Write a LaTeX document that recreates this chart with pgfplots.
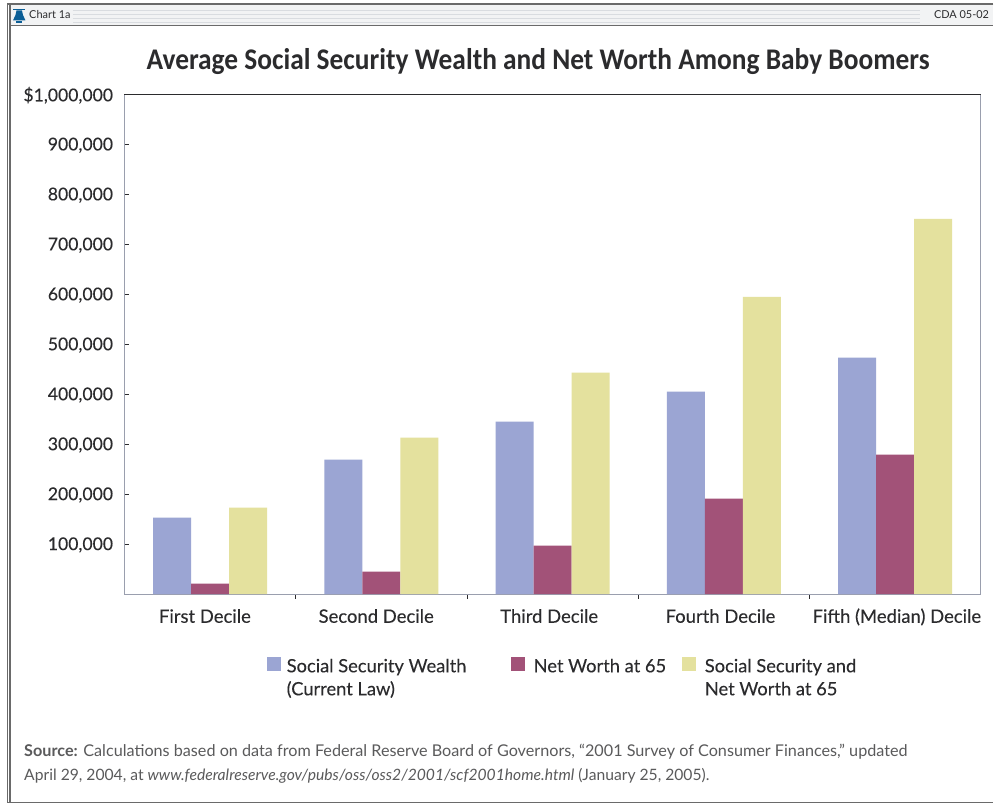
\documentclass[border=0pt]{standalone}
\usepackage{pgfplots}
\pgfplotsset{compat=1.18}
\usepackage{fontspec}
\setmainfont{Lato}
\newfontfamily\titlefont{Carlito}
\newfontfamily\labelfont{Lato}[FakeBold=0.12]
\definecolor{blueseries}{HTML}{9BA5D3}
\definecolor{redseries}{HTML}{A25278}
\definecolor{yellowseries}{HTML}{E4E19E}
\definecolor{inktext}{HTML}{2B2B2D}
\definecolor{frameline}{HTML}{6A6A6A}
\definecolor{axisgray}{HTML}{9A9FAE}
\definecolor{stripe}{HTML}{D9DCE0}
\definecolor{bell}{HTML}{0B5E96}
% one drawing unit is one pixel of the 994 by 804 page
\newlength{\pxu}\setlength{\pxu}{0.75pt}
\begin{document}
\begin{tikzpicture}[x=0.75pt,y=-0.75pt]
\path (0,0) rectangle (994,804);
% window frame and caption strip
\fill[white] (0,0) rectangle (994,804);
\fill[stripe!35] (10,5) rectangle (994,25);
\draw[frameline,line width=1.1pt] (994,4) -- (7.5,4) -- (7.5,803) -- (994,803);
\draw[frameline,line width=0.9pt] (10,4) -- (10,803);
\draw[frameline,line width=1.1pt] (10,25.5) -- (994,25.5);
\foreach \yy in {10.5,14.5,18.5,22} \draw[stripe,line width=0.7pt] (73,\yy) -- (921,\yy);
\fill[bell] (13,20.5) -- (25.5,20.5) -- (23,15) -- (22,10.5) -- (16.5,10.5) -- (15.5,15) -- cycle;
\fill[bell] (13.5,9) rectangle (25,10.5);
\fill[bell] (16,21.5) rectangle (22.5,23);
\node[anchor=base west,font=\fontsize{8.2pt}{10pt}\selectfont,text=inktext,inner sep=0pt] at (29,18.5) {Chart 1a};
\node[anchor=base east,font=\fontsize{8.2pt}{10pt}\selectfont,text=inktext,inner sep=0pt] at (990,18.5) {CDA 05-02};
% title
\node[anchor=base,xscale=0.914,font=\titlefont\bfseries\fontsize{22.5pt}{25pt}\selectfont,text=inktext,inner sep=0pt] at (538.5,69.5) {Average Social Security Wealth and Net Worth Among Baby Boomers};
\begin{axis}[
  at={(93.375pt,-445.875pt)},anchor=south west,
  scale only axis,width=857\pxu,height=500\pxu,
  xmin=0,xmax=5,ymin=0,ymax=1000000,
  scaled y ticks=false,
  axis line style={axisgray,line width=0.7pt},
  tick style={inktext,line width=0.5pt},
  ytick={100000,200000,300000,400000,500000,600000,700000,800000,900000,1000000},
  yticklabels={100{,}000,200{,}000,300{,}000,400{,}000,500{,}000,600{,}000,700{,}000,800{,}000,900{,}000,\$1{,}000{,}000},
  xtick={1,2,3,4},xticklabels={},
  extra x ticks={0.47,1.47,2.48,3.48,4.51},
  extra x tick labels={First Decile,Second Decile,Third Decile,Fourth Decile,Fifth (Median) Decile},
  extra x tick style={major tick length=0pt,tick label style={yshift=-10.5pt,text height=0.75em,text depth=0.2em}},
  major tick length=3.5pt,
  tick align=inside,
  ytick pos=left,xtick pos=bottom,
  yticklabel style={font=\labelfont\fontsize{13.2pt}{16pt}\selectfont,text=inktext,xshift=-5pt,yshift=-0.6pt},
  xticklabel style={font=\labelfont\fontsize{13.85pt}{16pt}\selectfont,text=inktext},
  ybar,
  bar width=28.5pt,
  legend columns=3,
  legend cell align=left,
  legend style={draw=none,fill=none,at={(0.1662,-0.119)},anchor=north west,
    font=\labelfont\fontsize{13.75pt}{17.25pt}\selectfont,text=inktext,inner sep=0pt,outer sep=0pt,
    /tikz/every odd column/.append style={column sep=2.5pt},
    /tikz/every even column/.append style={column sep=0pt}},
  legend image code/.code={\fill[#1,draw=none] (0pt,-4.5pt) rectangle (10.5pt,6pt);},
  clip=false,
]
\addplot[bar shift=-28.5pt,fill=blueseries,draw=none] coordinates {(0.5,153000) (1.5,269000) (2.5,345000) (3.5,405000) (4.5,473000)};
\addplot[bar shift=0pt,fill=redseries,draw=none] coordinates {(0.5,21000) (1.5,45000) (2.5,97000) (3.5,191000) (4.5,279000)};
\addplot[bar shift=28.5pt,fill=yellowseries,draw=none] coordinates {(0.5,173000) (1.5,313000) (2.5,443000) (3.5,595000) (4.5,751000)};
\legend{{\begin{tabular}[t]{@{}p{166.3pt}@{}}Social Security Wealth\\(Current Law)\end{tabular}},
        {\begin{tabular}[t]{@{\hspace{2pt}}p{109.5pt}@{}}Net Worth at 65\end{tabular}},
        {\begin{tabular}[t]{@{\hspace{2pt}}l@{}}Social Security and\\Net Worth at 65\end{tabular}}}
\draw[inktext,line width=0.7pt] (rel axis cs:0,1) -- (rel axis cs:1,1);
\end{axis}
% source note
\node[anchor=base west,font=\fontsize{12.15pt}{14pt}\selectfont,text=inktext!78,inner sep=0pt] at (24,757.5) {\textbf{Source:} Calculations based on data from Federal Reserve Board of Governors, “2001 Survey of Consumer Finances,” updated};
\node[anchor=base west,font=\fontsize{11.75pt}{14pt}\selectfont,text=inktext!78,inner sep=0pt] at (24,781.5) {April 29, 2004, at \textit{www.federalreserve.gov/pubs/oss/oss2/2001/scf2001home.html} (January 25, 2005).};
\end{tikzpicture}
\end{document}
